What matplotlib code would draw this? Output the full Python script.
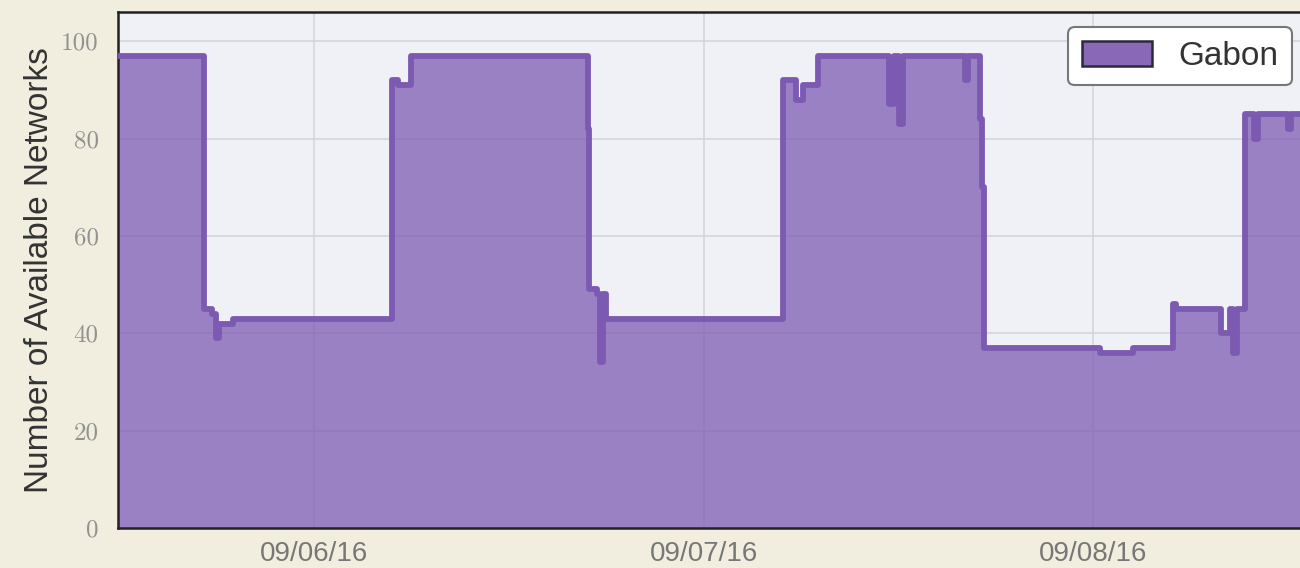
import numpy as np
import pandas as pd
import matplotlib
matplotlib.use('Agg')
from matplotlib import pyplot as plt
import matplotlib.dates as mdates
import matplotlib.patches as mpatches

# 网络数量的时间序列 (阶梯状)
times = ['2016-09-05 11:55', '2016-09-05 17:13', '2016-09-05 17:43', '2016-09-05 17:58',
         '2016-09-05 18:09', '2016-09-05 19:01', '2016-09-06 04:49', '2016-09-06 05:11',
         '2016-09-06 05:59', '2016-09-06 16:53', '2016-09-06 16:57', '2016-09-06 17:26',
         '2016-09-06 17:37', '2016-09-06 17:48', '2016-09-06 17:59', '2016-09-07 04:54',
         '2016-09-07 05:42', '2016-09-07 06:08', '2016-09-07 07:03', '2016-09-07 11:26',
         '2016-09-07 11:44', '2016-09-07 12:02', '2016-09-07 12:17', '2016-09-07 16:07',
         '2016-09-07 16:18', '2016-09-07 17:02', '2016-09-07 17:10', '2016-09-07 17:17',
         '2016-09-08 00:26', '2016-09-08 02:28', '2016-09-08 04:56', '2016-09-08 05:07',
         '2016-09-08 07:52', '2016-09-08 08:26', '2016-09-08 08:37', '2016-09-08 08:52',
         '2016-09-08 09:21', '2016-09-08 09:54', '2016-09-08 10:10', '2016-09-08 12:00',
         '2016-09-08 12:12', '2016-09-08 12:45']
networks = [97, 45, 44, 39, 42, 43, 92, 91,
            97, 82, 49, 48, 34, 48, 43, 92,
            88, 91, 97, 87, 97, 83, 97, 92,
            97, 84, 70, 37, 36, 37, 46, 45,
            40, 45, 36, 45, 85, 80, 85, 82,
            85, 85]
country = 'Gabon'
y_ticks = [0, 20, 40, 60, 80, 100]
day_ticks = ['2016-09-06', '2016-09-07', '2016-09-08']

t = pd.to_datetime(times)
y = np.array(networks)

fig = plt.figure(figsize=(13, 5.68), dpi=100, facecolor='#f1eedf')
ax = fig.add_axes([0.0908, 0.0704, 0.9092, 0.9085])
ax.set_facecolor('#eff1f6')

line_c = '#7d5ab1'
ax.fill_between(t, y, step='post', color=line_c, alpha=0.74, linewidth=0,
                label=country, zorder=2)
ax.plot(t, y, drawstyle='steps-post', color=line_c, lw=4.2, zorder=3,
        solid_joinstyle='round', solid_capstyle='round')

ax.set_xlim(t[0], t[-1])
ax.set_ylim(0, 106)
ax.set_yticks(y_ticks)
ax.set_xticks(pd.to_datetime(day_ticks))
ax.xaxis.set_major_formatter(mdates.DateFormatter('%m/%d/%y'))
ax.grid(True, color='#d3d4d9', lw=1.1, zorder=1)
ax.set_axisbelow(True)

ax.tick_params(length=0)
ax.tick_params(axis='y', pad=14, labelsize=18, labelcolor='#929292')
ax.tick_params(axis='x', pad=9, labelsize=20, labelcolor='#777777')
for lab in ax.get_yticklabels():
    lab.set_fontfamily('cmr10')
for lab in ax.get_xticklabels():
    lab.set_fontfamily('Liberation Sans')

ax.set_ylabel('Number of Available Networks', fontsize=24, color='#333333',
              family='Liberation Sans')
ax.yaxis.set_label_coords(-0.053, 0.5)

for s in ['left', 'bottom', 'top']:
    ax.spines[s].set_color('#222222')
    ax.spines[s].set_linewidth(1.8)
ax.spines['right'].set_visible(False)

# 图例
handle = mpatches.Patch(facecolor='#8a68b8', edgecolor='#2a2a3a', lw=1.8)
leg = ax.legend([handle], [country], loc='upper right', bbox_to_anchor=(0.993, 0.97),
                borderaxespad=0, prop={'family': 'Liberation Sans', 'size': 24},
                handlelength=2.1, handleheight=0.8, handletextpad=0.8, borderpad=0.4,
                fancybox=True, framealpha=1, edgecolor='#777777', facecolor='white')
leg.get_frame().set_linewidth(1.5)
for txt in leg.get_texts():
    txt.set_color('#333333')

plt.savefig('out.png', dpi=100, facecolor=fig.get_facecolor())
